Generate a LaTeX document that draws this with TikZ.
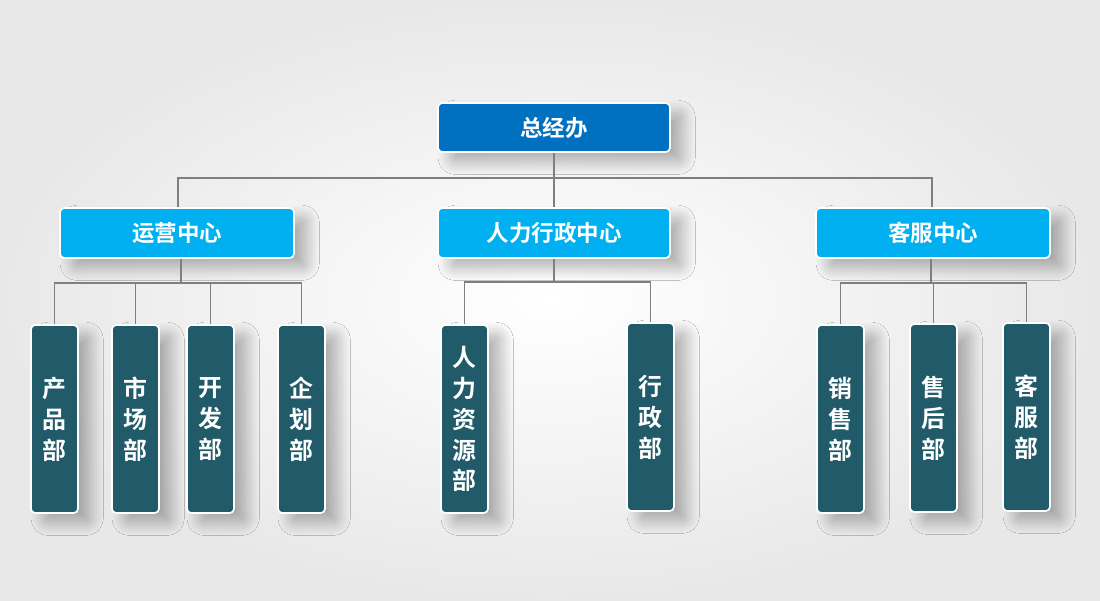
\documentclass[tikz,border=0pt]{standalone}
\usepackage{fontspec}
\setmainfont{Noto Sans CJK SC}[BoldFont={Noto Sans CJK SC Bold}]
\usetikzlibrary{shadows.blur}
\definecolor{topc}{HTML}{0070C0}
\definecolor{midc}{HTML}{00B0F0}
\definecolor{botc}{HTML}{215A69}
\definecolor{linec}{HTML}{7F7F7F}
\tikzset{
 box/.style={draw=white,line width=1.2pt,rounded corners=3pt,text=white,font=\bfseries\fontsize{16}{19}\selectfont,
   blur shadow={shadow xshift=9pt,shadow yshift=-7pt,shadow opacity=30,shadow blur radius=9pt,shadow blur steps=20}},
 conn/.style={draw=linec,line width=1pt}
}
\begin{document}
\begin{tikzpicture}[x=0.025cm,y=-0.025cm]
\fill[inner color=white,outer color=black!9] (0,0) rectangle (1100,600);
\useasboundingbox (0,0) rectangle (1100,600);
\newcommand\vbx[3]{\node[box,fill=botc,minimum width=47*0.025cm,minimum height=188*0.025cm,inner sep=0,align=center,font=\bfseries\fontsize{17}{22}\selectfont] (#1) at (#2) {#3};}
\coordinate (tl) at (178,178); \coordinate (tr) at (932,178);
\node[box,fill=topc,minimum width=232*0.025cm,minimum height=49*0.025cm,inner sep=0] (ceo) at (554,127.5) {总经办};
\node[box,fill=midc,minimum width=234*0.025cm,minimum height=50*0.025cm,inner sep=0] (a) at (177,233) {运营中心};
\node[box,fill=midc,minimum width=232*0.025cm,minimum height=50*0.025cm,inner sep=0] (b) at (554,233) {人力行政中心};
\node[box,fill=midc,minimum width=234*0.025cm,minimum height=50*0.025cm,inner sep=0] (c) at (933,233) {客服中心};
\vbx{a1}{54.5,419}{产\\品\\部}
\vbx{a2}{135.5,419}{市\\场\\部}
\vbx{a3}{210.5,419}{开\\发\\部}
\vbx{a4}{301.5,419}{企\\划\\部}
\vbx{b1}{464.5,419}{人\\力\\资\\源\\部}
\vbx{b2}{650.5,417}{行\\政\\部}
\vbx{c1}{840.5,419}{销\\售\\部}
\vbx{c2}{933.5,418}{售\\后\\部}
\vbx{c3}{1026.5,417}{客\\服\\部}
\draw[conn] (ceo.south) -- (b.north);
\draw[conn] (a.north -| tl) |- (tr) -- (c.north -| tr);
\draw[conn] (a.south -| 181,0) -- (181,283);
\draw[conn] (a1.north) |- (301.5,283) -- (a4.north);
\draw[conn] (a2.north) -- (135.5,283); \draw[conn] (a3.north) -- (210.5,283);
\draw[conn] (b.south) -- (554,282);
\draw[conn] (b1.north) |- (650.5,282) -- (b2.north);
\draw[conn] (c.south -| 931,0) -- (931,283);
\draw[conn] (c1.north) |- (1026.5,283) -- (c3.north);
\draw[conn] (c2.north) -- (933.5,283);
\end{tikzpicture}
\end{document}
